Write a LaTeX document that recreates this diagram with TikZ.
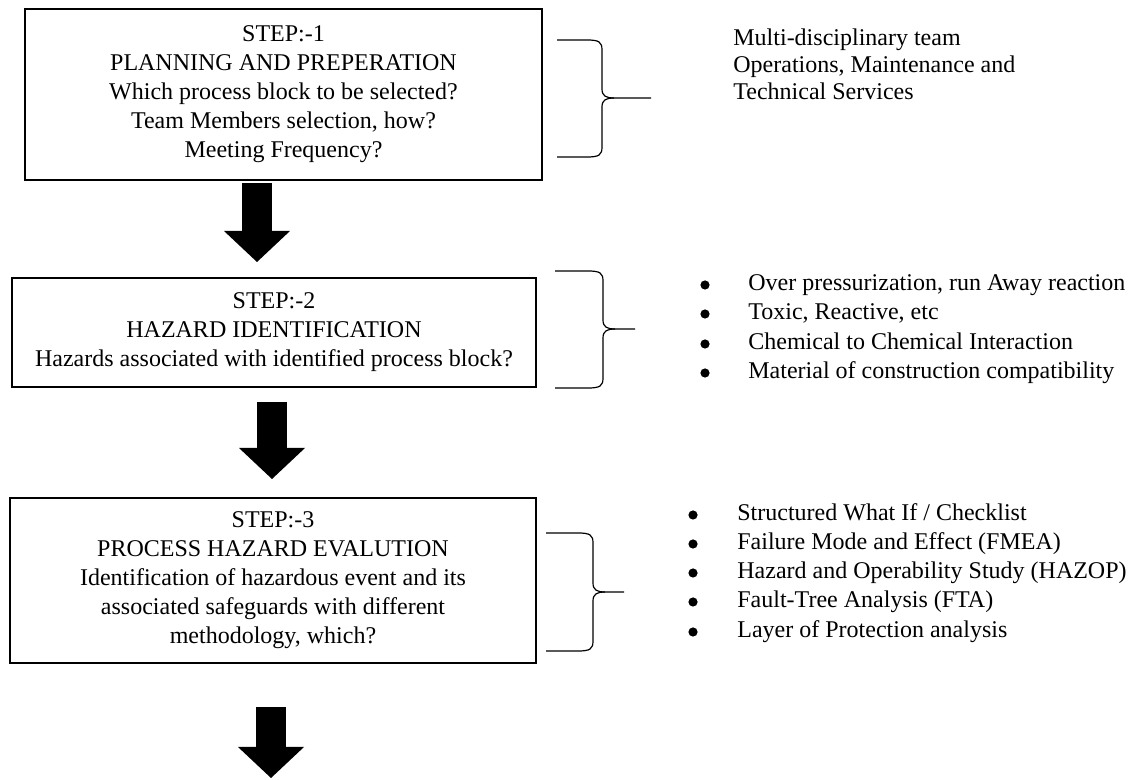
\documentclass[tikz,border=0pt]{standalone}
\usepackage{fontspec}
\setmainfont{Liberation Serif}
\usetikzlibrary{arrows.meta}
\tikzset{
	stepbox/.style={draw, line width=0.6pt, align=center, inner sep=0pt},
	brace/.style={line width=0.6pt},
	bigarrow/.style={line width=15pt, -{Triangle[width=33pt,length=15.5pt,line width=0pt]}},
	item/.style={anchor=base west, inner sep=0pt}
}
% x0, x1, x2, top, mid, bottom
\newcommand{\bracepath}[6]{%
	\draw[brace] (#1,#4) -- ({#2-15},#4) .. controls ({#2-3},#4) and (#2,{#4+2}) .. (#2,{#4+10})
		-- (#2,{#5-9}) .. controls (#2,{#5-2}) and ({#2+4},#5) .. ({#2+12},#5) -- (#3,#5);
	\draw[brace] ({#2+12},#5) .. controls ({#2+4},#5) and (#2,{#5+2}) .. (#2,{#5+9})
		-- (#2,{#6-10}) .. controls (#2,{#6-2}) and ({#2-3},#6) .. ({#2-15},#6) -- (#1,#6);}
\begin{document}
\begin{tikzpicture}[x=0.5pt, y=-0.5pt, font=\fontsize{12}{14.5}\selectfont]
		\useasboundingbox (0,0) rectangle (1142,780);
		% Step 1
		\node [stepbox, minimum width=258.5pt, minimum height=85.5pt] (step1) at (283.5,94.5)
			{STEP:-1\\PLANNING AND PREPERATION\\Which process block to be selected?\\Team Members selection, how?\\Meeting Frequency?};
		\bracepath{557}{602}{651}{40}{98}{157}
		\node [item] (team1) at (733,46) {Multi-disciplinary team};
		\node [item] (team2) at (733,73) {Operations, Maintenance and};
		\node [item] (team3) at (733,100) {Technical Services};
		% Freccia 1
		\coordinate (a1) at (257,183);
		\coordinate (b1) at (257,262);
		\draw [bigarrow] (a1) -- (b1);
		% Step 2
		\node [stepbox, minimum width=262pt, minimum height=54.5pt] (step2) at (274,332.5)
			{STEP:-2\\HAZARD IDENTIFICATION\\Hazards associated with identified process block?};
		\bracepath{555}{603}{635}{271}{329}{388}
		\node [item] (haz1) at (748,291) {Over pressurization, run Away reaction};
		\node [item] (haz2) at (748,320) {Toxic, Reactive, etc};
		\node [item] (haz3) at (748,350) {Chemical to Chemical Interaction};
		\node [item] (haz4) at (748,379) {Material of construction compatibility};
		\foreach \n in {haz1,haz2,haz3,haz4}
			\fill ([xshift=-21.5pt,yshift=3pt]\n.base west) circle [radius=2.3pt];
		% Freccia 2
		\coordinate (a2) at (272,402);
		\coordinate (b2) at (272,479);
		\draw [bigarrow] (a2) -- (b2);
		% Step 3
		\node [stepbox, minimum width=263pt, minimum height=82.5pt] (step3) at (273,580.5)
			{STEP:-3\\PROCESS HAZARD EVALUTION\\Identification of hazardous event and its\\associated safeguards with different\\methodology, which?};
		\bracepath{546}{593}{624}{533}{592}{651}
		\node [item] (meth1) at (737,521) {Structured What If / Checklist};
		\node [item] (meth2) at (737,550) {Failure Mode and Effect (FMEA)};
		\node [item] (meth3) at (737,579) {Hazard and Operability Study (HAZOP)};
		\node [item] (meth4) at (737,608) {Fault-Tree Analysis (FTA)};
		\node [item] (meth5) at (737,638) {Layer of Protection analysis};
		\foreach \n in {meth1,meth2,meth3,meth4,meth5}
			\fill ([xshift=-22pt,yshift=3pt]\n.base west) circle [radius=2.3pt];
		% Freccia 3
		\coordinate (a3) at (271,707);
		\coordinate (b3) at (271,778);
		\draw [bigarrow] (a3) -- (b3);
	\end{tikzpicture}
\end{document}
